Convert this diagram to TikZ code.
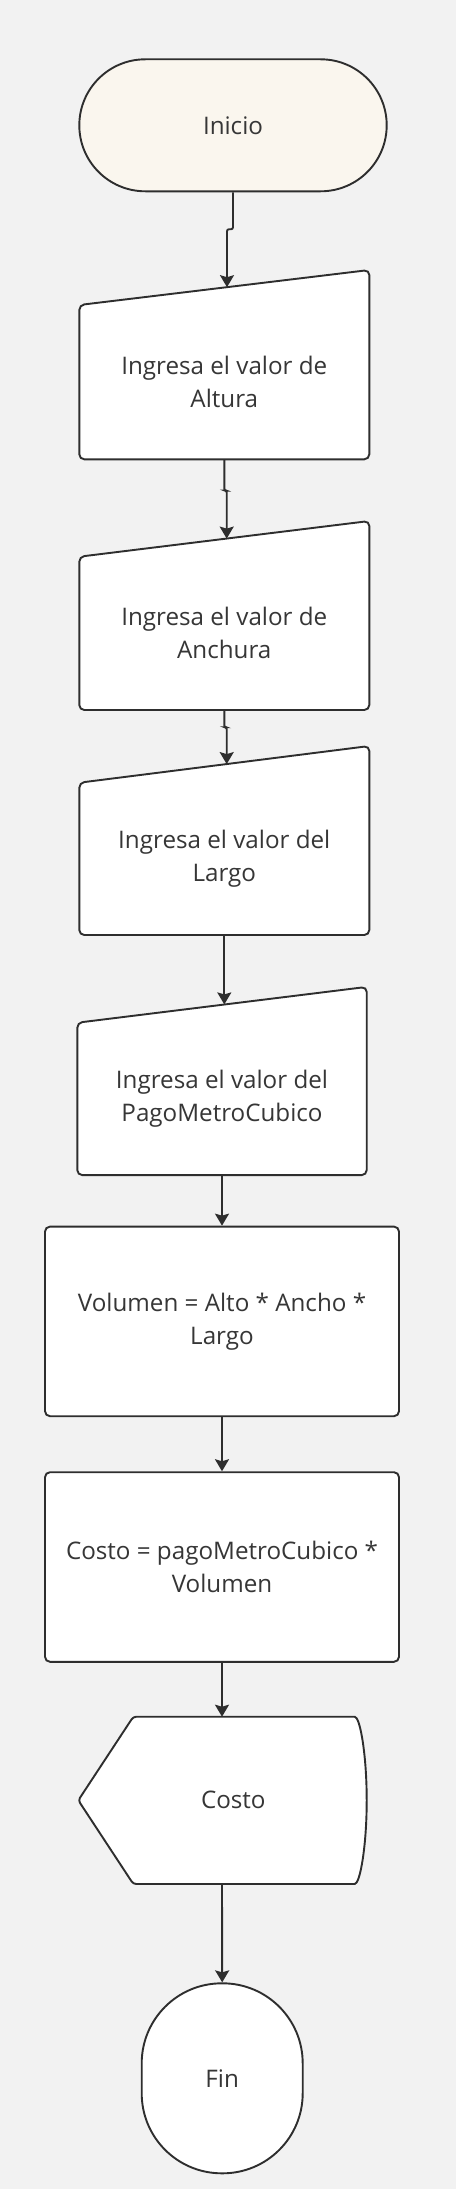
\documentclass[tikz,border=0pt]{standalone}
\usepackage{fontspec}
\setmainfont{Open Sans}
\usetikzlibrary{arrows.meta,shapes.misc}
\definecolor{bgcol}{HTML}{F2F2F2}
\definecolor{inkcol}{HTML}{2E2E2E}
\definecolor{txtcol}{HTML}{363636}
\definecolor{startfill}{HTML}{FAF6EE}

\begin{document}
\begin{tikzpicture}[x=1pt,y=1pt,
  every node/.style={font=\fontsize{24.2}{33}\selectfont,text=txtcol,align=center,inner sep=0pt},
  shapeline/.style={draw=inkcol,line width=1.9pt,fill=white,rounded corners=5pt},
  flow/.style={draw=inkcol,line width=1.9pt,rounded corners=2pt,-{Stealth[length=12pt,width=14pt,inset=2pt]}}]
\fill[bgcol] (0,0) rectangle (456,-2189);
\useasboundingbox (0,0) rectangle (456,-2189);
\draw[shapeline] (79.3,-305) -- (369.3,-270) -- (369.3,-459.3) -- (79.3,-459.3) -- cycle;
\draw[shapeline] (79.3,-556.7) -- (369.3,-521) -- (369.3,-710) -- (79.3,-710) -- cycle;
\draw[shapeline] (79.3,-782.7) -- (369.3,-746) -- (369.3,-935) -- (79.3,-935) -- cycle;
\draw[shapeline] (77.3,-1022.7) -- (366.7,-986.9) -- (366.7,-1175.1) -- (77.3,-1175.1) -- cycle;
\draw[shapeline,rounded corners=3pt] (133.3,-1716.7) -- (351.7,-1716.7) arc[start angle=90,end angle=-90,x radius=15,y radius=83.65] -- (133.3,-1884) -- (78.3,-1800.3) -- cycle;
\coordinate (in1top) at (227,-287.2);
\coordinate (in2top) at (226.7,-538.6);
\coordinate (in3top) at (226.7,-764.1);
\coordinate (in4top) at (224.3,-1004.4);
\coordinate (outtop) at (222,-1716.7);
\coordinate (outbot) at (222,-1884);
\node[draw=inkcol,line width=1.9pt,fill=startfill,rounded rectangle,minimum width=307.4,minimum height=132] (inicio) at (233,-125.3) {Inicio};
\node[minimum width=290,minimum height=154.3] (in1) at (224.3,-382.2) {Ingresa el valor de\\Altura};
\node[minimum width=290,minimum height=153.3] (in2) at (224.3,-633.4) {Ingresa el valor de\\Anchura};
\node[minimum width=290,minimum height=152.3] (in3) at (224.3,-858.9) {Ingresa el valor del\\Largo};
\node[minimum width=289.4,minimum height=152.4] (in4) at (222,-1098.9) {Ingresa el valor del\\PagoMetroCubico};
\node[shapeline,minimum width=354,minimum height=189.6] (vol) at (222,-1321.4) {Volumen = Alto * Ancho *\\Largo};
\node[shapeline,minimum width=354,minimum height=189.6] (costo) at (222,-1567) {Costo = pagoMetroCubico *\\Volumen};
\node (salida) at (233.3,-1800.3) {Costo};
\node[shapeline,rounded corners=80pt,minimum width=161,minimum height=190] (fin) at (222.2,-2078.3) {Fin};
\draw[flow] (inicio.south) -- ++(0,-37) -| (in1top);
\draw[flow] (in1.south) -- ++(0,-31) -| (in2top);
\draw[flow] (in2.south) -- ++(0,-17) -| (in3top);
\draw[flow] (in3.south) -- (in4top);
\draw[flow] (in4.south) -- (vol.north);
\draw[flow] (vol.south) -- (costo.north);
\draw[flow] (costo.south) -- (outtop);
\draw[flow] (outbot) -- (fin.north);
\end{tikzpicture}
\end{document}
